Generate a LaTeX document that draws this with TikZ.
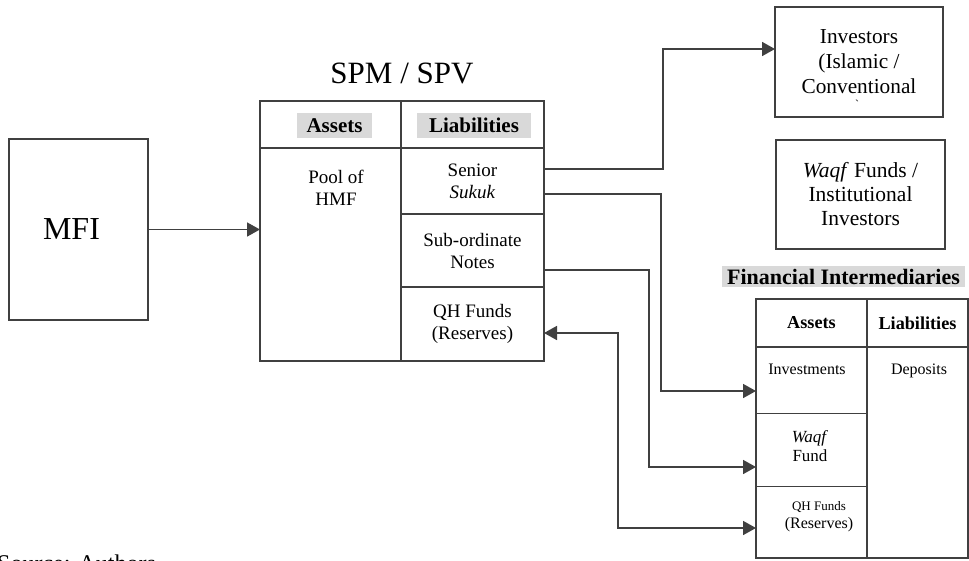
\documentclass[tikz,border=0pt]{standalone}
\usepackage{fontspec}
\setmainfont{Liberation Serif}
\usetikzlibrary{positioning, arrows.meta}
\definecolor{linegray}{HTML}{404040}
\definecolor{headgray}{HTML}{D9D9D9}

\begin{document}
\begin{tikzpicture}[
        x=1pt, y=-1pt,
        node distance=0pt,
        every node/.style={align=center, inner sep=0pt},
        frame/.style={draw=linegray, line width=2.2pt, outer sep=0pt},
        cell/.style={draw=linegray, line width=1.4pt, outer sep=0pt},
        thincell/.style={draw=linegray, line width=1pt, outer sep=0pt},
        head/.style={fill=headgray, font=\bfseries\fontsize{21}{24}\selectfont},
        body/.style={font=\fontsize{19}{22}\selectfont},
        arrow/.style={-{Triangle[length=13pt,width=14pt]}, line width=1.7pt, color=linegray},
        twoway/.style={{Triangle[length=13pt,width=14pt]}-{Triangle[length=13pt,width=14pt]}, line width=1.7pt, color=linegray}
    ]
    \useasboundingbox (0,0) rectangle (969,560);
    \clip (0,0) rectangle (969,560);

    % MFI
    \node[frame, minimum width=139, minimum height=181, font=\fontsize{32}{36}\selectfont] (mfi) at (78.5,229.5) {MFI\hspace*{14pt}};

    % SPM / SPV balance sheet
    \node[font=\fontsize{31}{36}\selectfont] (spvtitle) at (402,73) {SPM / SPV};
    \node[cell, minimum width=141, minimum height=47] (spvah) at (330.5,124.5) {};
    \node[cell, minimum width=143, minimum height=47, right=of spvah] (spvlh) {};
    \node[cell, minimum width=141, minimum height=213, below=of spvah] (spvpool) {};
    \node[cell, body, minimum width=143, minimum height=66, below=of spvlh] (spvsen) {Senior\\\textit{Sukuk}};
    \node[cell, body, minimum width=143, minimum height=73, below=of spvsen] (spvsub) {Sub-ordinate\\Notes};
    \node[cell, body, minimum width=143, minimum height=74, below=of spvsub] (spvqh) {QH Funds\\(Reserves)};
    \node[frame, minimum width=284, minimum height=260] (spv) at (402,231) {};

    \node[head, minimum width=75, minimum height=25] (spvahl) at (334.5,125.5) {Assets};
    \node[head, minimum width=114, minimum height=25] (spvlhl) at (474,125.5) {Liabilities};
    \node[body] (pool) at (336,188) {Pool of\\HMF};

    % Investors
    \node[frame, minimum width=168, minimum height=110, font=\fontsize{21.3}{25}\selectfont] (inv) at (859,62) {Investors\\(Islamic /\\Conventional};
    \node[font=\fontsize{12}{12}\selectfont] (invcut) at (857,104) {\textasciigrave};
    \node[frame, minimum width=169, minimum height=109, font=\fontsize{21.5}{24}\selectfont] (waqf) at (860.5,194.5) {\textit{Waqf} Funds /\\Institutional\\Investors};

    % Financial intermediaries balance sheet
    \node[head, font=\bfseries\fontsize{22}{24}\selectfont, minimum width=243, minimum height=21] (fititle) at (843.5,276.5) {Financial Intermediaries};
    \node[cell, minimum width=111, minimum height=48, font=\bfseries\fontsize{18.2}{21}\selectfont] (fiah) at (811.5,323) {Assets};
    \node[cell, minimum width=101, minimum height=48, font=\bfseries\fontsize{18.2}{21}\selectfont, right=of fiah] (filh) {Liabilities};
    \node[thincell, minimum width=111, minimum height=66, below=of fiah] (fiinv) {};
    \node[thincell, minimum width=111, minimum height=73, below=of fiinv] (fiwaqf) {};
    \node[thincell, minimum width=111, minimum height=72, below=of fiwaqf] (fiqh) {};
    \node[cell, minimum width=101, minimum height=211, below=of filh] (fidep) {};
    \node[frame, minimum width=212, minimum height=259] (fi) at (862,428.5) {};

    \node[font=\fontsize{16}{18}\selectfont] (invest) at (807,369) {Investments};
    \node[font=\fontsize{16}{18}\selectfont] (deposits) at (919,371) {Deposits};
    \node[font=\fontsize{17}{19}\selectfont] (waqffund) at (810,446) {\textit{Waqf}\\Fund};
    \node[font=\fontsize{16}{18}\selectfont] (qhfund) at (819,517) {{\fontsize{13}{18}\selectfont QH Funds}\\(Reserves)};

    % Arrows
    \draw[arrow] (mfi.east) -- (mfi.east -| spvpool.west);
    \draw[arrow] ([yshift=12pt]spvsen.east) -- ++(119,0) |- ([yshift=13pt]inv.west);
    \draw[arrow] ([yshift=-13pt]spvsen.east) -- ++(117,0) |- ([yshift=-11pt]fiinv.west);
    \draw[arrow] ([yshift=-19.5pt]spvsub.east) -- ++(105,0) |- ([yshift=-17.5pt]fiwaqf.west);
    \draw[twoway] ([yshift=-9pt]spvqh.east) -- ++(74,0) |- ([yshift=-6pt]fiqh.west);

    \node[anchor=base west, font=\fontsize{24}{28}\selectfont] (source) at (-3,571) {Source: Authors};
\end{tikzpicture}
\end{document}
